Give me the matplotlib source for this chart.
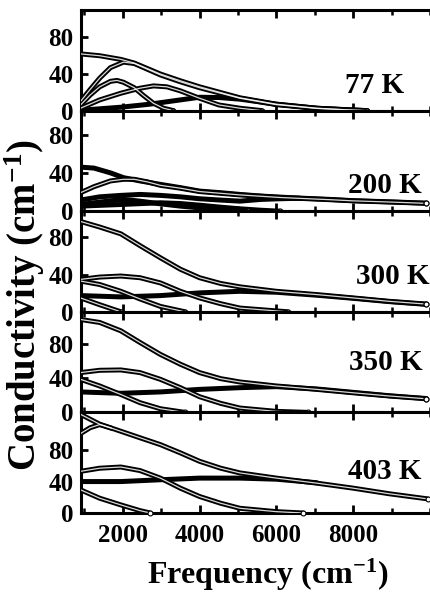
import matplotlib.pyplot as plt
from matplotlib.ticker import MultipleLocator

plt.rcParams['font.family'] = ['Liberation Serif', 'DejaVu Serif']
plt.rcParams['font.weight'] = 'bold'
plt.rcParams['mathtext.fontset'] = 'custom'
plt.rcParams['mathtext.rm'] = 'Liberation Serif:bold'
plt.rcParams['mathtext.bf'] = 'Liberation Serif:bold'
plt.rcParams['mathtext.default'] = 'bf'

#### data: (frequency cm-1, conductivity cm-1) per fitted component
temps = ['77 K', '200 K', '300 K', '350 K', '403 K']
ytops = [110, 105, 108, 118, 128]

# 77 K
k77_a = ([900, 1400, 1950, 2300, 2980, 3500, 4000, 5050, 6000, 7050, 8000, 8350],
         [62, 60, 56, 52, 40, 32.6, 26, 14, 7, 2.6, 0.5, 0])
k77_b = ([900, 1150, 1400, 1680, 2020, 2300, 2980, 3500, 4000, 5050, 6000, 7050, 8000, 8350],
         [10, 23, 35.5, 47, 53, 51.5, 39, 31.5, 25, 13.5, 6.5, 2.4, 0.4, 0])
k77_c = ([900, 1150, 1400, 1680, 1850, 2020, 2300, 2540, 2800, 3060, 3320],
         [6, 17, 26, 32, 33, 31, 25, 16.5, 8, 2.6, 0])
k77_d = ([900, 1400, 1950, 2450, 2800, 3150, 3500, 4000, 4500, 5050, 5620],
         [2.6, 11.7, 19, 24.5, 27, 26, 21.6, 13.5, 6.2, 2.6, 0])
k77_e = ([900, 1950, 2700, 3500, 4000, 4500, 5050, 6000, 7050, 8350],
         [0.4, 3.7, 7, 11.7, 14.6, 14.3, 12.5, 7, 2.6, 0])

# 200 K
k200_a = ([900, 1250, 1680, 2020, 2450, 2980, 3500, 4000, 4550, 5050, 5600, 6100, 6600, 7400, 8000, 9000, 9900],
          [46, 45, 40, 35, 31.6, 28, 24.6, 21, 19.3, 17.5, 15.8, 14.7, 13.7, 12.3, 11, 9.7, 8.4])
k200_b = ([900, 1250, 1680, 2020, 2300, 2650, 2980, 3500, 4000, 5050, 6100, 7400, 8000, 9000, 9900],
          [19.3, 25.6, 31.6, 33.3, 33.3, 30.5, 27, 24, 20.5, 17, 14.3, 12, 10.8, 9.5, 8.2])
k200_c = ([900, 1400, 1950, 2450, 2980, 3500, 4000, 4550, 5050, 5600, 6100, 6600],
          [11.6, 15, 16.5, 17.5, 16.5, 15, 13, 11.6, 10.5, 12.3, 13, 13.5])
k200_d = ([900, 1400, 2020, 2450, 2980, 3500, 4000, 4550, 5050, 5250],
          [7, 9.5, 12.3, 10.5, 7.7, 5.3, 3.5, 1.8, 0.7, 0])
k200_e = ([900, 1950, 2980, 3500, 4000, 4550, 5050, 5600, 6100],
          [5.3, 7, 8.8, 8, 6.3, 4.2, 2.5, 1, 0])

# 300 K
k300_a = ([900, 1400, 1950, 2450, 2980, 3500, 4000, 4550, 5050, 6000, 7050, 8000, 8950, 9900],
          [97, 91, 83.7, 71, 58, 45.7, 36.6, 30.4, 26.8, 22, 18.5, 14.9, 11.2, 8.3])
k300_b = ([900, 1400, 1950, 2450, 2980, 3500, 4000, 4550, 5050, 6300],
          [34.8, 37.3, 38.4, 36.6, 31, 22, 14.9, 8.7, 4, 0])
k300_c = ([900, 1400, 1950, 2450, 2980, 3620],
          [33, 29.3, 22, 13.8, 5.8, 0])
k300_d = ([900, 1400, 1950],
          [14.9, 7.6, 0])
k300_e = ([900, 1950, 2980, 4000, 5050, 6000, 7050, 8000, 8950, 9900],
          [17.4, 16, 17.4, 20.3, 22, 21, 17.8, 14.5, 10.9, 8])

# 350 K
k350_a = ([900, 1400, 1950, 2450, 2980, 3500, 4000, 4550, 5050, 6000, 7050, 8000, 8950, 9900],
          [109, 105.5, 95.7, 82, 68, 56.5, 46.7, 39.6, 35.7, 31, 27, 23, 19.2, 16])
k350_b = ([900, 1400, 1950, 2450, 2980, 3500, 4000, 4550, 5050, 6000, 6830],
          [46.7, 49.4, 49.8, 46.7, 38.8, 29, 18.4, 10.6, 5.1, 1.2, 0])
k350_c = ([900, 1400, 1950, 2450, 2980, 3620],
          [38.8, 31, 21, 11.4, 4.3, 0])
k350_d = ([900, 1950, 2980, 4000, 5050, 6000, 7050, 8000, 8950, 9900],
          [24, 22.4, 24, 27, 29, 30.2, 27.5, 23.5, 19.5, 16.3])

# 403 K
k403_a = ([900, 1400, 1950, 2450, 2980, 3500, 4000, 4550, 5050, 6000, 7050, 8000, 8950, 9935],
          [125.6, 113, 104, 95.7, 87, 76.5, 65.8, 57, 51, 44.4, 38, 31.6, 24.4, 18])
k403_a2 = ([900, 1150, 1400, 1700],
           [101, 108.5, 112.5, 108])
k403_b = ([900, 1400, 1950, 2450, 2980, 3500, 4000, 4550, 5050, 6000, 6700],
          [53, 57, 58.5, 54, 44.4, 31.6, 21, 12.4, 6, 1.7, 0])
k403_c = ([900, 1950, 2980, 4000, 5050, 6000, 7050],
          [40, 40, 42.3, 44.4, 44.4, 43, 38.5])
k403_d = ([900, 1400, 1950, 2450, 2720],
          [29.5, 18.8, 10.3, 3, 0])

panels = [
    [(k77_a, True), (k77_b, True), (k77_c, True), (k77_d, True), (k77_e, False)],
    [(k200_a, False), (k200_b, True), (k200_c, False), (k200_d, False), (k200_e, False)],
    [(k300_a, True), (k300_b, True), (k300_c, True), (k300_d, True), (k300_e, False)],
    [(k350_a, True), (k350_b, True), (k350_c, True), (k350_d, False)],
    [(k403_a, True), (k403_a2, True), (k403_b, True), (k403_c, False), (k403_d, True)],
]

# where the temperature label sits in each panel (axes fraction, right aligned)
lbl_pos = [(0.925, 0.245), (0.975, 0.26), (1.0, 0.35), (0.98, 0.5), (0.975, 0.41)]

fig, axes = plt.subplots(5, 1, sharex=True, figsize=(4.3, 5.92), dpi=100)
fig.subplots_adjust(left=80.5/430, right=1.0, top=1-10/592, bottom=1-513/592, hspace=0)

for ax, curves, top, t, pos in zip(axes, panels, ytops, temps, lbl_pos):
    for (f, s), hollow in curves:
        ax.plot(f, s, color='black', lw=3.6, solid_capstyle='round', zorder=3)
        if hollow:
            ax.plot(f, s, color='white', lw=0.9, alpha=0.85, zorder=4)
        if s[-1] == 0 or f[-1] > 9800:
            ax.plot(f[-1], s[-1], 'o', ms=3.5, mfc='white', mec='black', mew=0.8,
                    zorder=5, clip_on=False)
    ax.set_xlim(900, 10000)
    ax.set_ylim(0, top)
    ax.set_yticks([0, 40, 80])
    ax.xaxis.set_major_locator(MultipleLocator(2000))
    ax.xaxis.set_minor_locator(MultipleLocator(1000))
    ax.tick_params(axis='both', which='major', direction='in', top=True,
                   length=6, width=2, labelsize=18, pad=5)
    ax.tick_params(axis='x', which='minor', direction='in', top=True, length=3.5, width=1.8)
    ax.tick_params(axis='y', which='major', length=5)
    for sp in ['left', 'top', 'bottom']:
        ax.spines[sp].set_linewidth(2.2)
    ax.spines['right'].set_visible(False)
    ax.text(pos[0], pos[1], t, transform=ax.transAxes, ha='right', va='center',
            fontsize=21, fontweight='bold')

axes[-1].set_xticks([2000, 4000, 6000, 8000])
axes[-1].tick_params(axis='x', pad=8)

fig.text(268/430, 1-575/592, 'Frequency (cm$^{-1}$)', ha='center', va='center',
         fontsize=23, fontweight='bold')
fig.text(25/430, 1-305/592, 'Conductivity (cm$^{-1}$)', ha='center', va='center',
         rotation=90, fontsize=28, fontweight='bold')

plt.savefig('out.png', dpi=100)
